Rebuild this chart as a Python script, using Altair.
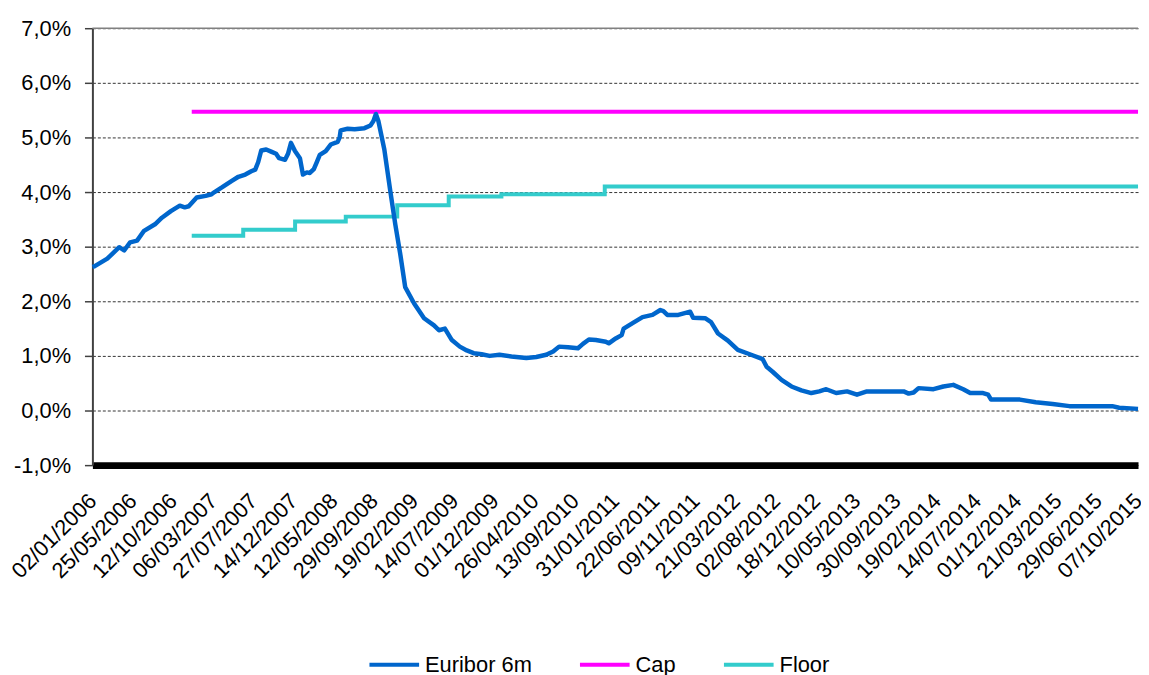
import altair as alt
import pandas as pd

tick_labels = [
    "02/01/2006", "25/05/2006", "12/10/2006", "06/03/2007", "27/07/2007",
    "14/12/2007", "12/05/2008", "29/09/2008", "19/02/2009", "14/07/2009",
    "01/12/2009", "26/04/2010", "13/09/2010", "31/01/2011", "22/06/2011",
    "09/11/2011", "21/03/2012", "02/08/2012", "18/12/2012", "10/05/2013",
    "30/09/2013", "19/02/2014", "14/07/2014", "01/12/2014", "21/03/2015",
    "29/06/2015", "07/10/2015",
]

# position along the category axis (in label periods) and rate in %
euribor_pos = [
    0.000, 0.049, 0.370, 0.667, 0.790, 0.938, 1.111, 1.284, 1.556, 1.728,
    1.951, 2.173, 2.296, 2.395, 2.593, 2.815, 2.963, 3.037, 3.210, 3.457,
    3.630, 3.802, 3.951, 4.049, 4.123, 4.198, 4.321, 4.444, 4.568, 4.642,
    4.790, 4.864, 4.938, 5.037, 5.160, 5.235, 5.333, 5.407, 5.506, 5.580,
    5.654, 5.802, 5.926, 6.099, 6.148, 6.173, 6.346, 6.519, 6.765, 6.914,
    6.988, 7.049, 7.111, 7.259, 7.407, 7.531, 7.654, 7.778, 8.000, 8.247,
    8.494, 8.617, 8.765, 8.938, 9.136, 9.309, 9.481, 9.679, 9.877, 10.123,
    10.420, 10.790, 11.037, 11.284, 11.457, 11.605, 11.827, 12.074, 12.198, 12.346,
    12.519, 12.765, 12.840, 13.012, 13.160, 13.210, 13.432, 13.679, 13.926, 14.123,
    14.198, 14.296, 14.568, 14.864, 14.938, 15.235, 15.383, 15.556, 15.802, 16.049,
    16.346, 16.667, 16.765, 16.914, 17.136, 17.383, 17.630, 17.877, 18.074, 18.247,
    18.494, 18.765, 19.012, 19.259, 20.173, 20.296, 20.420, 20.543, 20.914, 21.160,
    21.407, 21.654, 21.827, 22.148, 22.272, 22.346, 23.062, 23.457, 23.877, 24.296,
    25.358, 25.531, 26.000,
]
euribor_pct = [
    2.63, 2.64, 2.78, 2.99, 2.93, 3.08, 3.11, 3.29, 3.41, 3.53,
    3.65, 3.75, 3.72, 3.74, 3.90, 3.93, 3.96, 4.00, 4.08, 4.20,
    4.28, 4.32, 4.38, 4.41, 4.55, 4.76, 4.78, 4.74, 4.70, 4.62,
    4.59, 4.70, 4.90, 4.75, 4.62, 4.32, 4.36, 4.35, 4.42, 4.55,
    4.68, 4.75, 4.87, 4.92, 5.00, 5.13, 5.16, 5.15, 5.17, 5.22,
    5.30, 5.43, 5.30, 4.78, 4.02, 3.41, 2.87, 2.26, 1.96, 1.69,
    1.56, 1.47, 1.50, 1.29, 1.17, 1.10, 1.05, 1.03, 1.00, 1.02,
    0.99, 0.96, 0.98, 1.02, 1.08, 1.17, 1.16, 1.14, 1.22, 1.30,
    1.29, 1.26, 1.23, 1.32, 1.38, 1.50, 1.60, 1.71, 1.75, 1.84,
    1.82, 1.75, 1.75, 1.81, 1.70, 1.69, 1.62, 1.41, 1.28, 1.11,
    1.03, 0.94, 0.80, 0.71, 0.56, 0.44, 0.37, 0.32, 0.35, 0.39,
    0.32, 0.35, 0.29, 0.35, 0.35, 0.31, 0.33, 0.41, 0.39, 0.44,
    0.47, 0.39, 0.32, 0.32, 0.29, 0.20, 0.20, 0.15, 0.12, 0.08,
    0.08, 0.05, 0.03,
]

cap_pos = [2.47, 26.0]
cap_pct = [5.47, 5.47]

floor_pos = [2.47, 3.75, 5.04, 6.30, 7.58, 8.86, 10.17, 12.74, 26.0]
floor_pct = [3.20, 3.31, 3.46, 3.55, 3.76, 3.92, 3.96, 4.10, 4.10]

series_names = ["Euribor 6m", "Cap", "Floor"]
series_colors = ["#0066CC", "#FF00FF", "#33CCCC"]

FONT = "Liberation Sans"

df = pd.concat([
    pd.DataFrame({"series": series_names[0], "pos": euribor_pos, "pct": euribor_pct}),
    pd.DataFrame({"series": series_names[1], "pos": cap_pos, "pct": cap_pct}),
    pd.DataFrame({"series": series_names[2], "pos": floor_pos, "pct": floor_pct}),
], ignore_index=True)

label_array = "[" + ",".join("'" + s + "'" for s in tick_labels) + "]"

x_enc = alt.X(
    "pos:Q",
    scale=alt.Scale(domain=[0, len(tick_labels) - 1], nice=False, zero=False),
    axis=alt.Axis(
        values=list(range(len(tick_labels))),
        labelExpr=label_array + "[round(datum.value)]",
        labelAngle=-45, labelAlign="right", labelBaseline="middle",
        labelPadding=32, ticks=False, grid=False,
        domainColor="black", domainWidth=7,
        labelFont=FONT, labelFontSize=22, labelColor="black",
        labelOverlap=False, labelFlush=False, title=None,
    ),
)
y_enc = alt.Y(
    "pct:Q",
    scale=alt.Scale(domain=[-1, 7], nice=False, zero=False),
    axis=alt.Axis(
        values=list(range(-1, 8)),
        labelExpr="(datum.value < 0 ? '-' : '') + replace(format(abs(datum.value), '.1f'), '.', ',') + '%'",
        tickSize=8, tickColor="#404040", tickWidth=1.5,
        domainColor="#404040", domainWidth=2,
        gridColor="#333333", gridDash=[3, 2], gridWidth=1,
        labelPadding=14, labelFont=FONT, labelFontSize=22, labelColor="black",
        title=None,
    ),
)
color_enc = alt.Color(
    "series:N",
    scale=alt.Scale(domain=series_names, range=series_colors),
    sort=series_names,
    legend=alt.Legend(
        orient="none", legendX=277, legendY=614, direction="horizontal",
        title=None, symbolType="stroke", symbolStrokeWidth=4, symbolSize=2500,
        labelFont=FONT, labelFontSize=22, labelColor="black",
        columnPadding=40, labelOffset=4,
    ),
)

base = alt.Chart(df).encode(x=x_enc, y=y_enc, color=color_enc)

top_line = alt.Chart(pd.DataFrame({"pct": [7]})).mark_rule(
    color="#808080", strokeWidth=1.5
).encode(y=alt.Y("pct:Q"))

cap_line = base.transform_filter(alt.datum.series == "Cap").mark_line(strokeWidth=4)
floor_line = base.transform_filter(alt.datum.series == "Floor").mark_line(
    strokeWidth=4, interpolate="step-after")
eur_line = base.transform_filter(alt.datum.series == "Euribor 6m").mark_line(
    strokeWidth=4.5, strokeJoin="round")

chart = alt.layer(top_line, cap_line, floor_line, eur_line).properties(
    width=1053, height=440,
    autosize=alt.AutoSizeParams(type="none"),
    padding={"left": 85, "top": 18, "right": 3, "bottom": 209},
).configure_view(stroke=None)

chart.save("out.html", embed_options={"renderer": "svg", "actions": False})
